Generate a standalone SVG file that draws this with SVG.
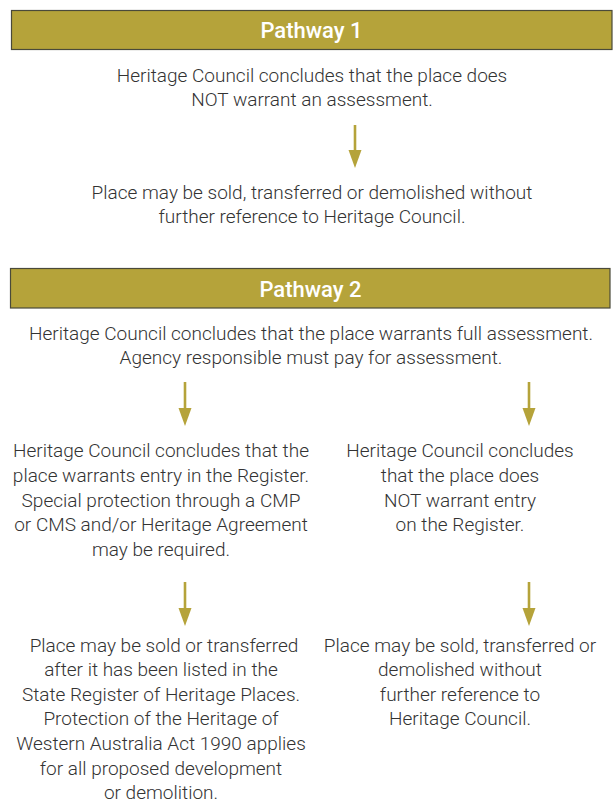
<svg xmlns="http://www.w3.org/2000/svg" width="613" height="807" viewBox="0 0 613 807">
<style>
.bar{fill:#b5a33a;stroke:#4a4a3a;stroke-width:1.2}
.title{font-family:Roboto,"Liberation Sans",sans-serif;font-weight:500;font-size:22px;fill:#ffffff;text-anchor:middle}
.t{font-family:Roboto,"Liberation Sans",sans-serif;font-weight:300;font-size:19px;fill:#333333;text-anchor:middle}
.arr{stroke:#b5a33a;stroke-width:2.6;fill:none}
.head{fill:#b5a33a}
</style>
<g id="pathway1-header">
<rect class="bar" x="11.5" y="10.5" width="600.5" height="39"/>
<text class="title" x="311.5" y="38">Pathway 1</text>
</g>
<g id="p1-conclude">
<text class="t" x="312" y="81.5">Heritage Council concludes that the place does</text>
<text class="t" x="312" y="105.5">NOT warrant an assessment.</text>
</g>
<g id="p1-outcome">
<text class="t" x="312" y="198.5">Place may be sold, transferred or demolished without</text>
<text class="t" x="312" y="222.5">further reference to Heritage Council.</text>
</g>
<g id="pathway2-header">
<rect class="bar" x="10.5" y="268.5" width="599.5" height="39.5"/>
<text class="title" x="310.5" y="297">Pathway 2</text>
</g>
<g id="p2-assess">
<text class="t" x="311" y="339.5">Heritage Council concludes that the place warrants full assessment.</text>
<text class="t" x="311" y="363.5">Agency responsible must pay for assessment.</text>
</g>
<g id="p2-entry">
<text class="t" x="161" y="456.5">Heritage Council concludes that the</text>
<text class="t" x="161" y="481.5">place warrants entry in the Register.</text>
<text class="t" x="161" y="506.5">Special protection through a CMP</text>
<text class="t" x="161" y="530.5">or CMS and/or Heritage Agreement</text>
<text class="t" x="161" y="555.5">may be required.</text>
</g>
<g id="p2-noentry">
<text class="t" x="460" y="456.5">Heritage Council concludes</text>
<text class="t" x="460" y="481.5">that the place does</text>
<text class="t" x="460" y="506.5">NOT warrant entry</text>
<text class="t" x="460" y="530.5">on the Register.</text>
</g>
<g id="p2-listed">
<text class="t" x="164" y="651.5">Place may be sold or transferred</text>
<text class="t" x="161" y="675.5">after it has been listed in the</text>
<text class="t" x="161" y="700.5">State Register of Heritage Places.</text>
<text class="t" x="161" y="724.5">Protection of the Heritage of</text>
<text class="t" x="161" y="749.5">Western Australia Act 1990 applies</text>
<text class="t" x="161" y="774.5">for all proposed development</text>
<text class="t" x="161" y="798.5">or demolition.</text>
</g>
<g id="p2-notlisted">
<text class="t" x="460" y="651.5">Place may be sold, transferred or</text>
<text class="t" x="460" y="675.5">demolished without</text>
<text class="t" x="460" y="700.5">further reference to</text>
<text class="t" x="460" y="724.5">Heritage Council.</text>
</g>
<g id="connectors">
<line class="arr" x1="355" y1="125" x2="355" y2="152"/>
<polygon class="head" points="348.5,150 361.5,150 355,168"/>
<line class="arr" x1="185" y1="382" x2="185" y2="410"/>
<polygon class="head" points="178.5,408 191.5,408 185,426"/>
<line class="arr" x1="529" y1="382" x2="529" y2="410"/>
<polygon class="head" points="522.5,408 535.5,408 529,426"/>
<line class="arr" x1="185" y1="582" x2="185" y2="610"/>
<polygon class="head" points="178.5,608 191.5,608 185,626"/>
<line class="arr" x1="529" y1="582" x2="529" y2="610"/>
<polygon class="head" points="522.5,608 535.5,608 529,626"/>
</g>
</svg>
